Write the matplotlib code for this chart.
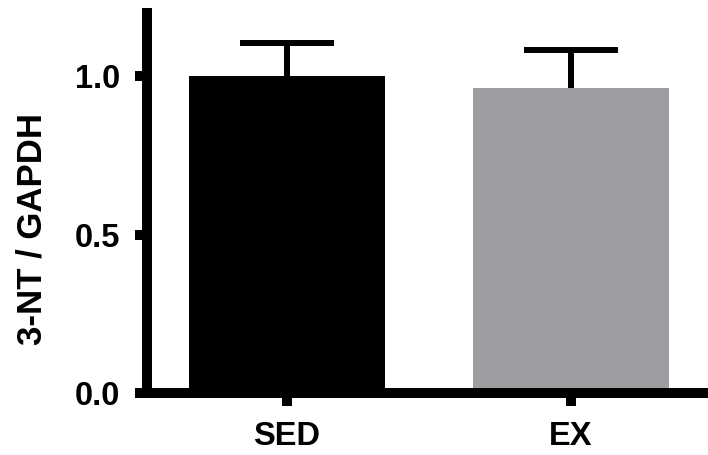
import numpy as np
import matplotlib.pyplot as plt

plt.rcParams['font.family'] = ['Liberation Sans', 'DejaVu Sans']
plt.rcParams['font.weight'] = 'bold'

groups = ['SED', 'EX']
means = [1.0, 0.962]
sem_up = [0.104, 0.120]
colors = ['#000000', '#9e9da1']

fig = plt.figure(figsize=(7.08, 4.55), dpi=100)
ax = fig.add_axes([0.2076, 0.1363, 0.7924, 0.8351])

x = np.arange(len(groups))
ax.bar(x, means, width=0.69, color=colors, zorder=2)
_, caps, _ = ax.errorbar(x, means, yerr=[np.zeros(len(means)), sem_up], fmt='none',
                         ecolor='black', elinewidth=4.3, capsize=33.5, capthick=4.3, zorder=1)
# only the upper cap is wanted
caps[0].set_visible(False)

ax.set_xlim(-0.493, 1.482)
ax.set_ylim(0, 1.2)
ax.set_yticks([0.0, 0.5, 1.0])
ax.set_yticklabels(['0.0', '0.5', '1.0'])
ax.set_xticks(x)
ax.set_xticklabels(groups)

for s in ['top', 'right']:
    ax.spines[s].set_visible(False)
for s in ['left', 'bottom']:
    ax.spines[s].set_linewidth(7.2)
    ax.spines[s].set_capstyle('projecting')

ax.tick_params(axis='both', width=7.2, length=9, labelsize=23.5, pad=10)
ax.tick_params(axis='x', pad=11)
ax.set_ylabel('3-NT / GAPDH', fontsize=25, fontweight='bold')
ax.yaxis.set_label_coords(-0.175, 0.431)

fig.savefig('out.png', dpi=100)
